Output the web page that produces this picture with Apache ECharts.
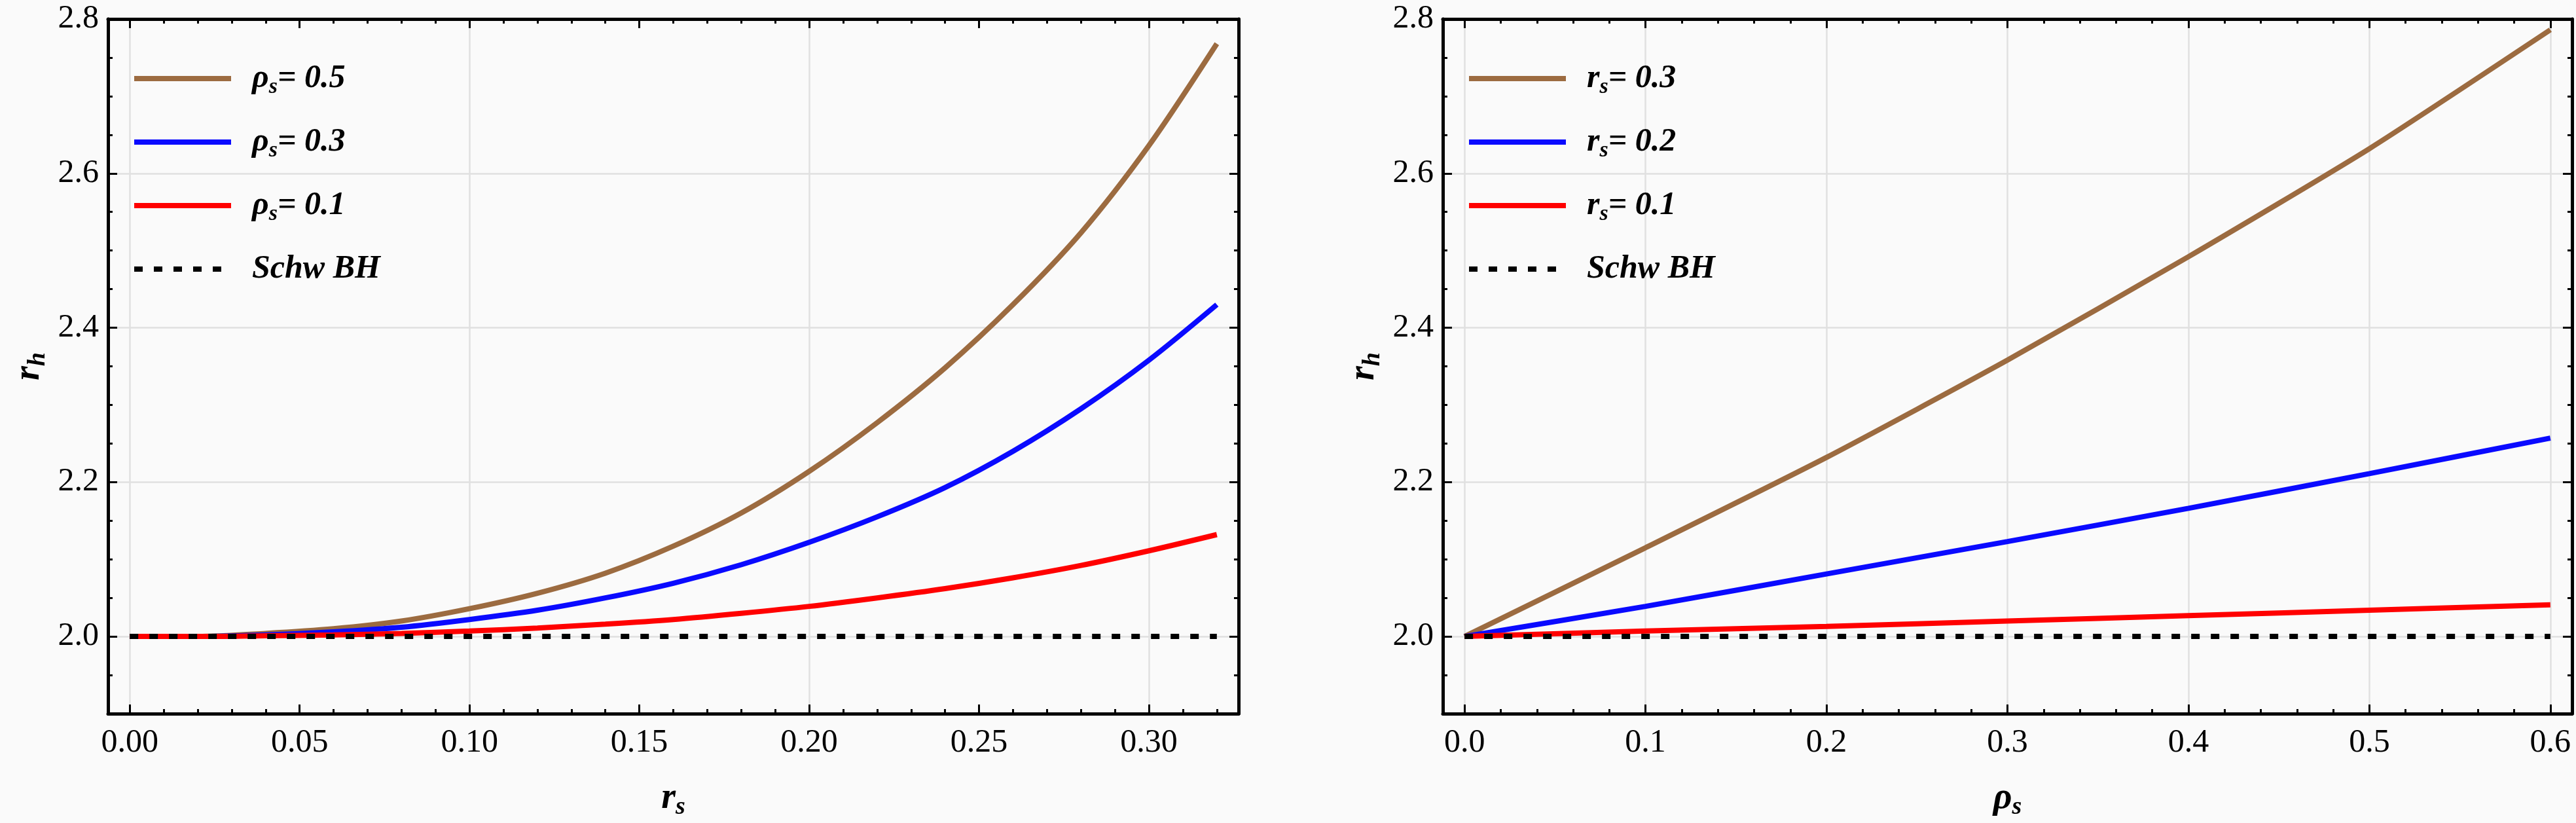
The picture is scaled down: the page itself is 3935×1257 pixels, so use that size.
<!doctype html>
<html>
    <head>
        <meta charset="utf-8">
        <title>Horizon radius r_h</title>
        <style>
            html, body { margin: 0; padding: 0; background: #fafafa; }
            #main { width: 3935px; height: 1257px; }
        </style>
    </head>
    <body>
        <div id="main"></div>
        <script src="https://cdn.jsdelivr.net/npm/echarts@6/dist/echarts.min.js"></script>
        <script>
            // left panel: r_h against r_s
            var rsValues = [0.00, 0.02, 0.04, 0.06, 0.08, 0.10, 0.12, 0.14, 0.16, 0.18, 0.20, 0.22, 0.24, 0.26, 0.28, 0.30, 0.32];
            var rhRho05 = [2.000, 2.000, 2.004, 2.010, 2.020, 2.036, 2.056, 2.082, 2.117, 2.160, 2.214, 2.277, 2.348, 2.430, 2.523, 2.636, 2.768];
            var rhRho03 = [2.000, 2.000, 2.002, 2.006, 2.012, 2.022, 2.034, 2.050, 2.069, 2.093, 2.122, 2.155, 2.193, 2.240, 2.295, 2.358, 2.430];
            var rhRho01 = [2.000, 2.000, 2.001, 2.002, 2.004, 2.007, 2.011, 2.016, 2.022, 2.030, 2.039, 2.050, 2.062, 2.076, 2.092, 2.111, 2.132];

            // right panel: r_h against rho_s
            var rhoValues = [0.0, 0.1, 0.2, 0.3, 0.4, 0.5, 0.6];
            var rhRs03 = [2.000, 2.115, 2.232, 2.358, 2.492, 2.632, 2.786];
            var rhRs02 = [2.000, 2.039, 2.081, 2.123, 2.166, 2.211, 2.257];
            var rhRs01 = [2.000, 2.007, 2.013, 2.020, 2.027, 2.034, 2.041];

            // Schwarzschild horizon
            var schwRsX = [0.00, 0.32];
            var schwRhoX = [0.0, 0.6];
            var schwY = [2.0, 2.0];

            var leftLegend = ['ρs= 0.5', 'ρs= 0.3', 'ρs= 0.1', 'Schw BH'];
            var rightLegend = ['rs= 0.3', 'rs= 0.2', 'rs= 0.1', 'Schw BH '];

            var SERIF = 'Liberation Serif';
            var BROWN = '#9c6b40', BLUE = '#0a0aff', RED = '#ff0000';

            function pairs(xs, ys) {
                return xs.map(function (x, i) { return [x, ys[i]]; });
            }

            var richName = {
                m: { fontFamily: SERIF, fontSize: 56, fontWeight: 'bold', fontStyle: 'italic', color: '#000', lineHeight: 64 },
                s: { fontFamily: SERIF, fontSize: 38, fontWeight: 'bold', fontStyle: 'italic', color: '#000', lineHeight: 30, verticalAlign: 'bottom' }
            };
            var richLegend = {
                m: { fontFamily: SERIF, fontSize: 50, fontWeight: 'bold', fontStyle: 'italic', color: '#000', lineHeight: 60 },
                s: { fontFamily: SERIF, fontSize: 34, fontWeight: 'bold', fontStyle: 'italic', color: '#000', lineHeight: 28, verticalAlign: 'bottom' }
            };

            function legendText(name) {
                var n = name.trim();
                if (n === 'Schw BH') return '{m|Schw BH}';
                // first char is the symbol, second the subscript
                return '{m|' + n.charAt(0) + '}{s|' + n.charAt(1) + '}{m|' + n.slice(2) + '}';
            }

            var labelStyle = { fontFamily: SERIF, fontSize: 50, color: '#000' };
            var frameLine = { show: true, onZero: false, lineStyle: { color: '#000', width: 5 } };
            var tickStyle = { show: true, inside: true, length: 14, lineStyle: { color: '#000', width: 3 } };
            var gridLine = { show: true, lineStyle: { color: '#e0e0e0', width: 2.5 } };

            function xAxes(gridIndex, min, max, step, minorSplit, digits, name, gridStep) {
                var base = {
                    type: 'value', gridIndex: gridIndex, min: min, max: max,
                    minInterval: step, maxInterval: step
                };
                var bottom = Object.assign({}, base, {
                    position: 'bottom',
                    name: name, nameLocation: 'middle', nameGap: 98,
                    nameTextStyle: { rich: richName },
                    axisLine: frameLine,
                    axisTick: tickStyle,
                    minorTick: { show: true, splitNumber: minorSplit, length: 7, lineStyle: { color: '#000', width: 3 } },
                    axisLabel: Object.assign({ margin: 20, showMinLabel: false, showMaxLabel: false,
                        formatter: function (v) { return v.toFixed(digits); } }, labelStyle),
                    splitLine: gridStep === step ? gridLine : { show: false }
                });
                var top = Object.assign({}, base, {
                    position: 'top',
                    axisLine: frameLine,
                    axisTick: tickStyle,
                    minorTick: { show: true, splitNumber: minorSplit, length: 7, lineStyle: { color: '#000', width: 3 } },
                    axisLabel: { show: false },
                    splitLine: { show: false }
                });
                var list = [bottom, top];
                if (gridStep !== step) {
                    list.push({
                        type: 'value', gridIndex: gridIndex, min: min, max: max,
                        minInterval: gridStep, maxInterval: gridStep,
                        axisLine: { show: false }, axisTick: { show: false }, axisLabel: { show: false },
                        splitLine: gridLine
                    });
                }
                return list;
            }

            function yAxes(gridIndex) {
                var base = {
                    type: 'value', gridIndex: gridIndex, min: 1.9, max: 2.8,
                    minInterval: 0.2, maxInterval: 0.2
                };
                var left = Object.assign({}, base, {
                    position: 'left',
                    name: '{m|r}{s|h}', nameLocation: 'middle', nameGap: 88, nameRotate: 90,
                    nameTextStyle: { rich: richName },
                    axisLine: frameLine,
                    axisTick: tickStyle,
                    minorTick: { show: true, splitNumber: 4, length: 7, lineStyle: { color: '#000', width: 3 } },
                    axisLabel: Object.assign({ margin: 14, showMinLabel: false, showMaxLabel: true,
                        formatter: function (v) { return v.toFixed(1); } }, labelStyle),
                    splitLine: gridLine
                });
                var right = Object.assign({}, base, {
                    position: 'right',
                    axisLine: frameLine,
                    axisTick: tickStyle,
                    minorTick: { show: true, splitNumber: 4, length: 7, lineStyle: { color: '#000', width: 3 } },
                    axisLabel: { show: false },
                    splitLine: { show: false }
                });
                return [left, right];
            }

            var xLeft = xAxes(0, -0.0064, 0.3264, 0.05, 5, 2, '{m|r}{s|s}', 0.1);
            var xRight = xAxes(1, -0.012, 0.612, 0.1, 5, 1, '{m|ρ}{s|s}', 0.1);
            var xAxisList = xLeft.concat(xRight);   // 0,1,2 left ; 3,4 right
            var yAxisList = yAxes(0).concat(yAxes(1)); // 0,1 left ; 2,3 right

            function curve(name, xi, yi, xs, ys, color, smooth) {
                return {
                    name: name, type: 'line', xAxisIndex: xi, yAxisIndex: yi,
                    data: pairs(xs, ys), symbol: 'none', smooth: smooth,
                    lineStyle: { color: color, width: 8 }, itemStyle: { color: color },
                    emphasis: { disabled: true }
                };
            }
            function schw(name, xi, yi, xs) {
                return {
                    name: name, type: 'line', xAxisIndex: xi, yAxisIndex: yi,
                    data: pairs(xs, schwY), symbol: 'none', z: 3,
                    lineStyle: { color: '#000', width: 8, type: [13, 17] }, itemStyle: { color: '#000' },
                    emphasis: { disabled: true }
                };
            }

            function legendBlock(names, left) {
                return {
                    data: names, orient: 'vertical', left: left, top: 95,
                    padding: 0, itemWidth: 148, itemHeight: 2, itemGap: 42,
                    selectedMode: false,
                    lineStyle: { width: 8 },
                    itemStyle: { opacity: 0 },
                    formatter: legendText,
                    textStyle: { padding: [0, 0, 0, 27], rich: richLegend }
                };
            }

            var chart = echarts.init(document.getElementById('main'));
            chart.setOption({
                backgroundColor: '#fafafa',
                animation: false,
                grid: [
                    { left: 165, top: 29, width: 1727, height: 1067 },
                    { left: 2204, top: 29, width: 1725, height: 1067 }
                ],
                legend: [legendBlock(leftLegend, 201), legendBlock(rightLegend, 2240)],
                xAxis: xAxisList,
                yAxis: yAxisList,
                series: [
                    curve(leftLegend[0], 0, 0, rsValues, rhRho05, BROWN, 0.3),
                    curve(leftLegend[1], 0, 0, rsValues, rhRho03, BLUE, 0.3),
                    curve(leftLegend[2], 0, 0, rsValues, rhRho01, RED, 0.3),
                    schw(leftLegend[3], 0, 0, schwRsX),
                    curve(rightLegend[0], 3, 2, rhoValues, rhRs03, BROWN, 0.2),
                    curve(rightLegend[1], 3, 2, rhoValues, rhRs02, BLUE, 0.2),
                    curve(rightLegend[2], 3, 2, rhoValues, rhRs01, RED, 0.2),
                    schw(rightLegend[3], 3, 2, schwRhoX)
                ]
            });

            window.addEventListener('resize', function () {
                chart.resize();
            });
        </script>
    </body>
</html>
